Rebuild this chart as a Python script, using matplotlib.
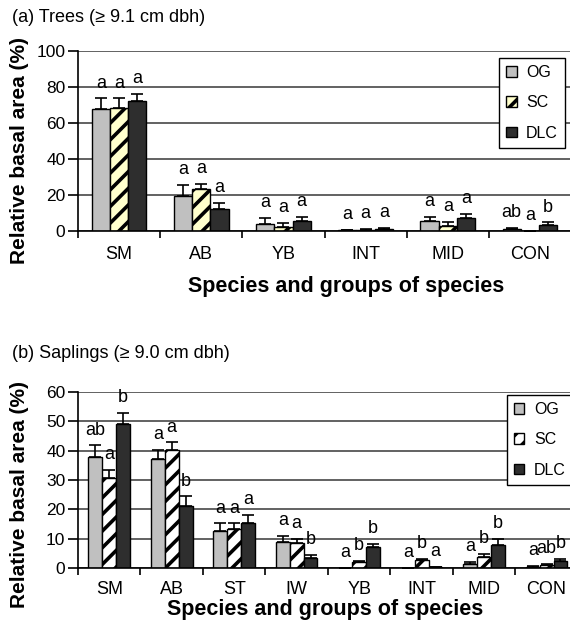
import matplotlib
matplotlib.use("Agg")
import matplotlib.pyplot as plt
import numpy as np

plt.rcParams['font.family'] = ['Liberation Sans', 'DejaVu Sans']
plt.rcParams['hatch.linewidth'] = 2.6

# (a) trees
cats_a = ['SM', 'AB', 'YB', 'INT', 'MID', 'CON']
og_a = [67.6, 19.6, 3.9, 0.3, 5.7, 1.2]
og_a_err = [6.1, 6.0, 3.3, 0.2, 2.3, 0.6]
sc_a = [68.2, 23.3, 2.5, 0.8, 3.0, 0.0]
sc_a_err = [5.5, 3.0, 1.8, 0.3, 2.2, 0.0]
dlc_a = [72.4, 12.0, 5.6, 1.2, 7.0, 3.5]
dlc_a_err = [3.7, 3.7, 2.4, 0.5, 2.4, 1.3]
lett_a = [['a', 'a', 'a', 'a', 'a', 'ab'],
          ['a', 'a', 'a', 'a', 'a', 'a'],
          ['a', 'a', 'a', 'a', 'a', 'b']]

# (b) saplings
cats_b = ['SM', 'AB', 'ST', 'IW', 'YB', 'INT', 'MID', 'CON']
og_b = [38.0, 37.0, 12.7, 9.0, 0.0, 0.0, 1.3, 0.4]
og_b_err = [3.8, 3.2, 2.5, 1.9, 0.0, 0.0, 0.8, 0.2]
sc_b = [30.8, 40.1, 13.4, 8.4, 2.1, 2.8, 3.8, 1.0]
sc_b_err = [2.6, 2.7, 1.8, 1.6, 0.4, 0.4, 1.1, 0.3]
dlc_b = [49.1, 21.1, 15.2, 3.4, 7.0, 0.4, 7.8, 2.3]
dlc_b_err = [3.7, 3.3, 3.0, 1.2, 1.3, 0.1, 2.2, 0.9]
lett_b = [['ab', 'a', 'a', 'a', 'a', 'a', 'a', 'a'],
          ['a', 'a', 'a', 'a', 'b', 'b', 'b', 'ab'],
          ['b', 'b', 'a', 'b', 'b', 'a', 'b', 'b']]

series = ['OG', 'SC', 'DLC']


def draw_panel(ax, cats, vals, errs, letters, ymax, ystep, sc_face, leg_anchor, tick_pad):
    n = len(cats)
    x = np.arange(n)
    w = 0.222
    faces = ['#c0c0c0', sc_face, '#2e2e2e']
    hatches = [None, '//', None]
    for k in range(3):
        xs = x + (k - 1) * w
        ax.bar(xs, vals[k], width=w, color=faces[k], edgecolor='black',
               linewidth=1.0, hatch=hatches[k], label=series[k], zorder=2)
        ax.errorbar(xs, vals[k], yerr=[np.zeros(n), errs[k]], fmt='none',
                    ecolor='black', elinewidth=1.2, capsize=4, capthick=1.2, zorder=3)
        for i in range(n):
            ax.annotate(letters[k][i], (xs[i], vals[k][i] + errs[k][i]),
                        xytext=(0, 11), textcoords='offset points',
                        ha='center', va='center', fontsize=13)

    ax.set_xlim(-0.5, n - 0.5)
    ax.set_ylim(0, ymax)
    ax.set_yticks(np.arange(0, ymax + 1, ystep))
    ax.set_xticks(np.arange(n + 1) - 0.5)
    ax.set_xticklabels([])
    ax.set_xticks(x, minor=True)
    ax.set_xticklabels(cats, minor=True, fontsize=13)
    ax.tick_params(axis='x', which='minor', length=0, pad=tick_pad)
    ax.tick_params(axis='x', which='major', length=5, width=1.2, direction='out')
    ax.tick_params(axis='y', length=7, width=1.2, labelsize=12.5, pad=2)

    ax.set_axisbelow(True)
    ax.yaxis.grid(True, color='#555555', linewidth=1.3)
    ax.spines['top'].set_visible(False)
    ax.spines['right'].set_visible(False)
    ax.spines['left'].set_linewidth(1.2)
    ax.spines['bottom'].set_linewidth(1.2)

    ax.set_xlabel('Species and groups of species', fontsize=15.5, fontweight='bold')
    ax.set_ylabel('Relative basal area (%)', fontsize=15, fontweight='bold')

    leg = ax.legend(loc='upper left', bbox_to_anchor=leg_anchor, fontsize=11.5,
                    frameon=True, fancybox=False, framealpha=1, edgecolor='black',
                    handlelength=0.65, handleheight=0.65, handletextpad=0.6,
                    labelspacing=0.95, borderpad=0.45, borderaxespad=0)
    leg.get_frame().set_linewidth(1.0)
    return ax


fig = plt.figure(figsize=(5.7, 6.25), dpi=100)

ax1 = fig.add_axes([0.1368, 0.6304, 0.865, 0.288])
draw_panel(ax1, cats_a, [og_a, sc_a, dlc_a], [og_a_err, sc_a_err, dlc_a_err],
           lett_a, 100, 20, '#ffffcc', (0.854, 0.961), 11)
ax1.xaxis.set_label_coords(0.544, -0.25)
ax1.yaxis.set_label_coords(-0.1, 0.45)
fig.text(0.021, 1 - 17 / 625, '(a) Trees (\u2265 9.1 cm dbh)', fontsize=13, va='center')

ax2 = fig.add_axes([0.1368, 0.0912, 0.877, 0.2816])
draw_panel(ax2, cats_b, [og_b, sc_b, dlc_b], [og_b_err, sc_b_err, dlc_b_err],
           lett_b, 60, 10, 'white', (0.858, 0.983), 9)
ax2.xaxis.set_label_coords(0.494, -0.178)
ax2.yaxis.set_label_coords(-0.098, 0.42)
fig.text(0.021, 1 - 353 / 625, '(b) Saplings (\u2265 9.0 cm dbh)', fontsize=13, va='center')

fig.savefig('out.png', dpi=100)
